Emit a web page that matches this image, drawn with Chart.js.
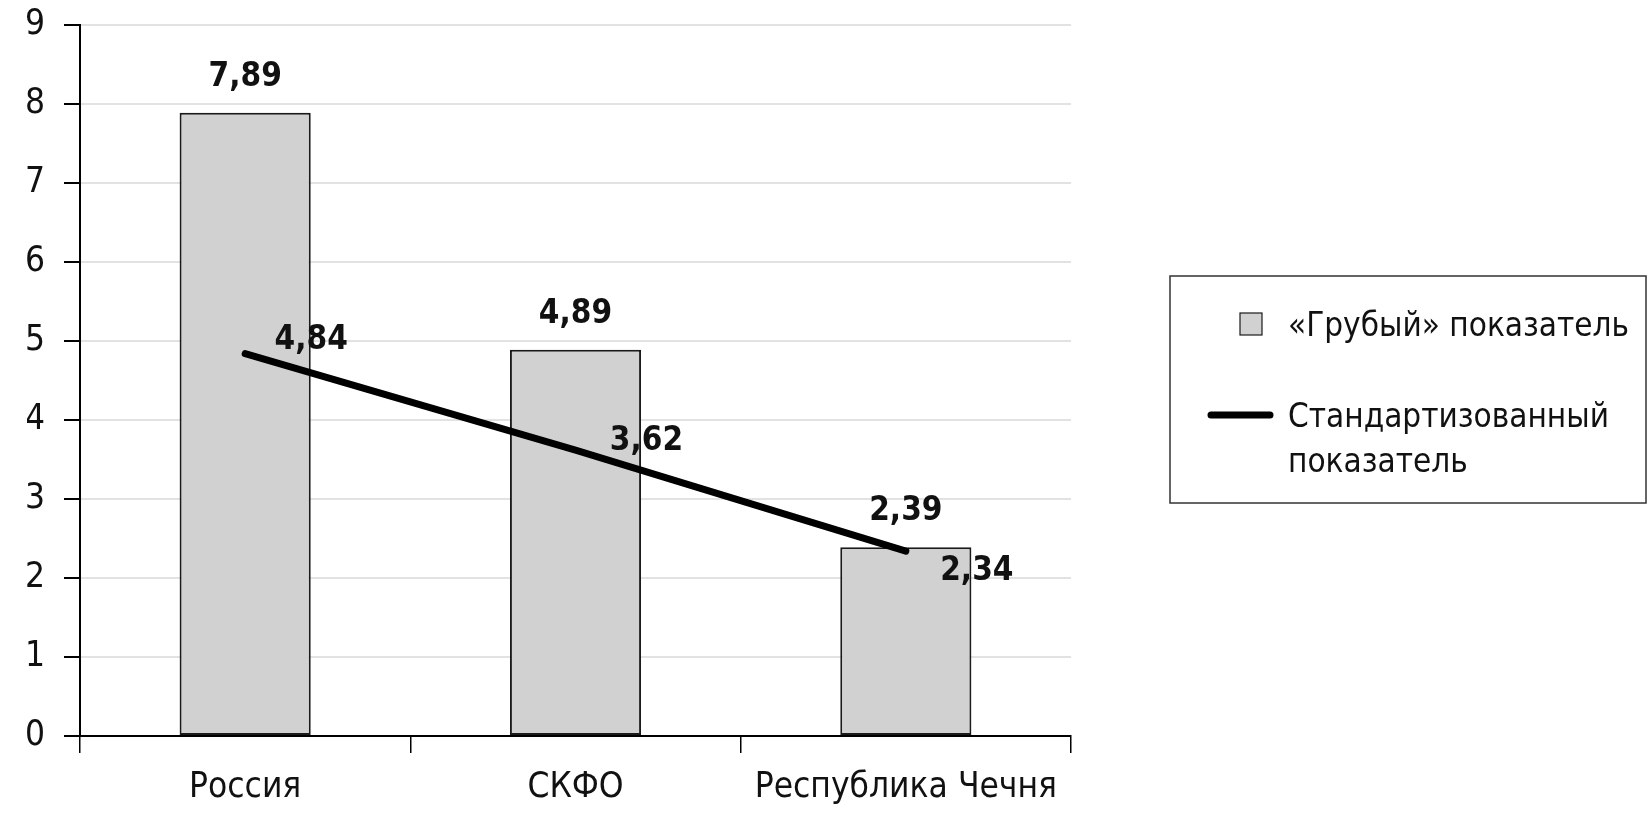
<!DOCTYPE html>
<html>
<head>
<meta charset="utf-8">
<script src="https://cdn.jsdelivr.net/npm/chart.js@4"></script>
<style>
  html, body { margin: 0; padding: 0; background: #ffffff; }
  #wrap { width: 1652px; height: 813px; position: relative; }
</style>
</head>
<body>
<div id="wrap"><canvas id="c" width="1652" height="813"></canvas></div>
<script>
// ---- data ----
const categories = ['Россия', 'СКФО', 'Республика Чечня'];
const crudeValues = [7.89, 4.89, 2.39];
const standardizedValues = [4.84, 3.62, 2.34];
const yTickValues = [0, 1, 2, 3, 4, 5, 6, 7, 8, 9];
const seriesNames = ['«Грубый» показатель', 'Стандартизованный показатель'];

// ---- style ----
const FONT = "'DejaVu Sans Condensed', 'Liberation Sans Narrow', Roboto, sans-serif";
const FONT_SIZE = 35;
const LEGEND_SIZE = 33;
const BOLD_SIZE = 33;
const barFill = '#d1d1d1';
const barBorder = '#1a1a1a';
const lineLabelOffsets = [[66, -5], [71, 0], [71, 29]];
const barLabelGap = 27;

function fmt(v) { return v.toFixed(2).replace('.', ','); }

const labelPlugin = {
  id: 'valueLabels',
  afterDatasetsDraw(chart) {
    const ctx = chart.ctx;
    ctx.save();
    ctx.fillStyle = '#111';
    ctx.font = 'bold ' + BOLD_SIZE + 'px ' + FONT;
    ctx.textAlign = 'center';
    ctx.textBaseline = 'alphabetic';
    chart.data.datasets.forEach((ds, di) => {
      const meta = chart.getDatasetMeta(di);
      meta.data.forEach((el, i) => {
        const v = ds.data[i];
        if (ds.type === 'bar') {
          ctx.fillText(fmt(v), el.x, el.y - barLabelGap);
        } else {
          const o = lineLabelOffsets[i];
          ctx.fillText(fmt(v), el.x + o[0], el.y + o[1]);
        }
      });
    });
    ctx.restore();
  }
};

const legendPlugin = {
  id: 'boxLegend',
  afterDraw(chart) {
    const ctx = chart.ctx;
    const box = { l: 1170, t: 276, r: 1646, b: 503 };
    ctx.save();
    ctx.strokeStyle = '#333';
    ctx.lineWidth = 1.5;
    ctx.strokeRect(box.l, box.t, box.r - box.l, box.b - box.t);
    ctx.font = LEGEND_SIZE + 'px ' + FONT;
    ctx.fillStyle = '#111';
    ctx.textAlign = 'left';
    ctx.textBaseline = 'alphabetic';
    const textX = 1288;
    const maxW = box.r - textX - 8;
    const capHalf = Math.round(LEGEND_SIZE * 0.365);
    const barDs = chart.data.datasets.find(d => d.type === 'bar');
    const lineDs = chart.data.datasets.find(d => d.type === 'line');
    // bar item
    ctx.fillStyle = barDs.backgroundColor;
    ctx.fillRect(1240, 313, 22, 22);
    ctx.strokeStyle = barDs.borderColor;
    ctx.lineWidth = 1.2;
    ctx.strokeRect(1240, 313, 22, 22);
    ctx.fillStyle = '#111';
    ctx.fillText(barDs.label, textX, 324 + capHalf);
    // line item
    ctx.strokeStyle = lineDs.borderColor;
    ctx.lineWidth = 7;
    ctx.lineCap = 'round';
    ctx.beginPath();
    ctx.moveTo(1211, 415);
    ctx.lineTo(1270, 415);
    ctx.stroke();
    // wrap text
    const words = lineDs.label.split(' ');
    const lines = [];
    let cur = '';
    words.forEach(w => {
      const test = cur ? cur + ' ' + w : w;
      if (ctx.measureText(test).width > maxW && cur) { lines.push(cur); cur = w; }
      else cur = test;
    });
    if (cur) lines.push(cur);
    lines.forEach((ln, k) => ctx.fillText(ln, textX, 415 + capHalf + k * 45));
    ctx.restore();
  }
};

new Chart(document.getElementById('c'), {
  data: {
    labels: categories,
    datasets: [
      {
        type: 'line',
        label: seriesNames[1],
        data: standardizedValues,
        borderColor: '#000',
        borderWidth: 7,
        borderCapStyle: 'round',
        pointRadius: 0,
        tension: 0,
        order: 0
      },
      {
        type: 'bar',
        label: seriesNames[0],
        data: crudeValues,
        backgroundColor: barFill,
        borderColor: barBorder,
        borderWidth: 2,
        borderSkipped: false,
        categoryPercentage: 1,
        barPercentage: 0.397,
        order: 1
      }
    ]
  },
  options: {
    responsive: false,
    devicePixelRatio: 1,
    animation: false,
    layout: { padding: { left: 27, top: 25, right: 581, bottom: 0 } },
    plugins: { legend: { display: false }, tooltip: { enabled: false } },
    scales: {
      x: {
        offset: true,
        afterFit(scale) { scale.height = 77; scale.paddingLeft = 0; scale.paddingRight = 0; },
        grid: { display: true, drawOnChartArea: false, drawTicks: true, tickLength: 17, color: '#000', lineWidth: 1.5, offset: true },
        border: { display: true, color: '#000', width: 2 },
        ticks: { color: '#111', font: { family: FONT, size: FONT_SIZE }, padding: 14, maxRotation: 0, autoSkip: false }
      },
      y: {
        min: 0,
        max: 9,
        afterBuildTicks(scale) { scale.ticks = yTickValues.map(v => ({ value: v })); },
        afterFit(scale) { scale.width = 53; scale.paddingTop = 0; scale.paddingBottom = 0; },
        grid: { color: '#e2e2e2', lineWidth: 2, tickColor: '#000', tickLength: 16, drawTicks: true },
        border: { display: true, color: '#000', width: 2 },
        ticks: { color: '#111', font: { family: FONT, size: FONT_SIZE }, padding: 19, autoSkip: false, callback: v => String(v) }
      }
    }
  },
  plugins: [labelPlugin, legendPlugin]
});
</script>
</body>
</html>
